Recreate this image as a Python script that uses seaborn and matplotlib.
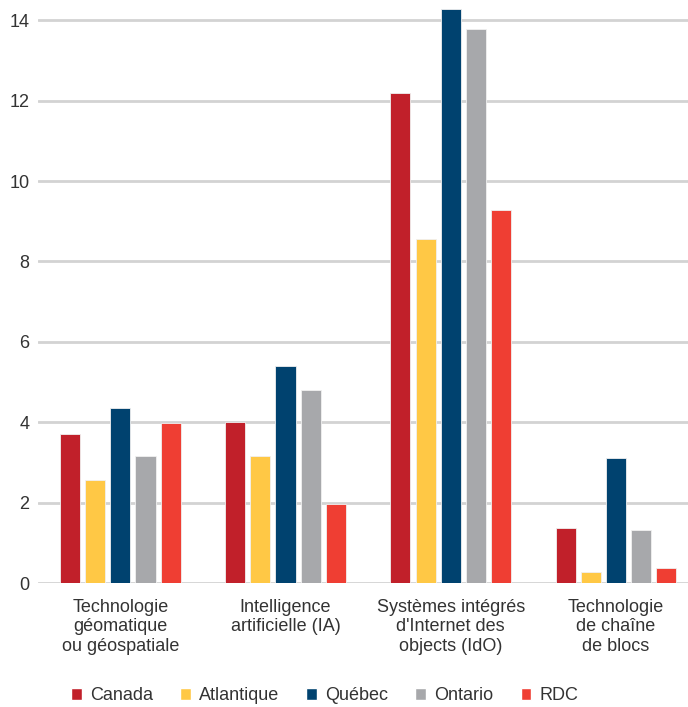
import pandas as pd
import numpy as np
import matplotlib
matplotlib.use("Agg")
import matplotlib.pyplot as plt
import seaborn as sns
from matplotlib.patches import Patch

categories = ["Technologie\ngéomatique\nou géospatiale",
              "Intelligence\nartificielle (IA)",
              "Systèmes intégrés\nd'Internet des\nobjects (IdO)",
              "Technologie\nde chaîne\nde blocs"]
regions = ["Canada", "Atlantique", "Québec", "Ontario", "RDC"]
canada = [3.7, 4.0, 12.2, 1.37]
atlantique = [2.56, 3.16, 8.56, 0.27]
quebec = [4.36, 5.4, 14.28, 3.11]
ontario = [3.16, 4.8, 13.77, 1.32]
rdc = [3.98, 1.98, 9.27, 0.38]
colors = ["#C1202A", "#FFC845", "#00426F", "#A7A8AB", "#EF3E33"]

df = pd.DataFrame({"cat": categories * 5,
                   "region": np.repeat(regions, 4),
                   "val": canada + atlantique + quebec + ontario + rdc})

sns.set_style("white")
plt.rcParams['font.family'] = ['Liberation Sans', 'DejaVu Sans']

fig = plt.figure(figsize=(6.88, 7.07), dpi=100)
ax = fig.add_axes([0.055, 0.175, 0.96, 0.825])

sns.barplot(data=df, x="cat", y="val", hue="region", palette=colors,
            saturation=1, width=0.76, gap=0.2, ax=ax, legend=False,
            edgecolor="#f0f0f0", linewidth=0.6, zorder=3)

ax.set_ylim(0, 14.5)
ax.set_xlim(-0.5, 3.5)
ax.set_yticks([0, 2, 4, 6, 8, 10, 12, 14])
ax.yaxis.grid(True, color="#d3d3d3", linewidth=2, zorder=0)
ax.set_axisbelow(True)
for s in ax.spines.values():
    s.set_visible(False)
ax.set_xlabel("")
ax.set_ylabel("")
ax.tick_params(axis="both", length=0, labelsize=13, colors="#333333")
ax.tick_params(axis="x", pad=11)
ax.tick_params(axis="y", pad=6)

# legende en bas
handles = [Patch(facecolor=c, label=r) for c, r in zip(colors, regions)]
fig.legend(handles=handles, loc="center", bbox_to_anchor=(0.472, 0.016),
           ncol=5, frameon=False, fontsize=13, handlelength=0.6,
           handleheight=0.6, handletextpad=0.45, columnspacing=1.5,
           labelcolor="#333333")

fig.savefig("out.png", dpi=100)
